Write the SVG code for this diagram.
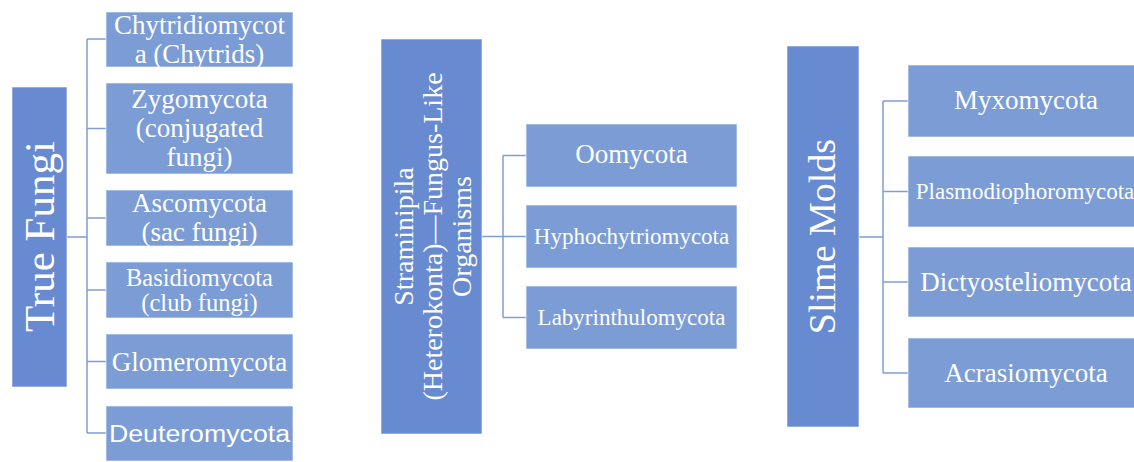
<svg xmlns="http://www.w3.org/2000/svg" width="1134" height="462" viewBox="0 0 1134 462">
<style>
.parent{fill:#678AD0;stroke:#ffffff;stroke-opacity:0.6;stroke-width:1}
.child{fill:#7B9CD5;stroke:#ffffff;stroke-opacity:0.6;stroke-width:1}
.t{font-family:"Liberation Serif","Times New Roman",serif;fill:#ffffff;text-anchor:middle}
.s{font-family:"Liberation Sans",Arial,sans-serif;fill:#ffffff;text-anchor:middle}
.conn{fill:none;stroke:#7F9DD6;stroke-width:1.5}
</style>
<rect width="1134" height="462" fill="#ffffff"/>
<g id="connectors">
<path class="conn" d="M67,237H87M87,39V433M87,39H106M87,128.5H106M87,218H106M87,290H106M87,361.5H106M87,433H106"/>
<path class="conn" d="M482,236.5H526M503,155.5V317.5M503,155.5H526M503,317.5H526"/>
<path class="conn" d="M859,237H883M883,101V373M883,101H908M883,191.5H908M883,282H908M883,373H908"/>
</g>
<g id="true-fungi">
<rect class="parent" x="12" y="87" width="55" height="300"/>
<text class="t" font-size="43" transform="translate(39.5,236.5) rotate(-90)" y="14">True Fungi</text>
</g>
<g id="chytridiomycota">
<rect class="child" x="106" y="12" width="187" height="55"/>
<text class="t" font-size="27" x="199.5" y="34">Chytridiomycot</text>
<text class="t" font-size="27" x="199.5" y="63">a (Chytrids)</text>
</g>
<g id="zygomycota">
<rect class="child" x="106" y="83" width="187" height="91"/>
<text class="t" font-size="27" x="199.5" y="108">Zygomycota</text>
<text class="t" font-size="27" x="199.5" y="137">(conjugated</text>
<text class="t" font-size="27" x="199.5" y="166">fungi)</text>
</g>
<g id="ascomycota">
<rect class="child" x="106" y="190" width="187" height="56"/>
<text class="t" font-size="27" x="199.5" y="212">Ascomycota</text>
<text class="t" font-size="27" x="199.5" y="241">(sac fungi)</text>
</g>
<g id="basidiomycota">
<rect class="child" x="106" y="262" width="187" height="56"/>
<text class="t" font-size="24.5" x="199.5" y="286">Basidiomycota</text>
<text class="t" font-size="24.5" x="199.5" y="311">(club fungi)</text>
</g>
<g id="glomeromycota">
<rect class="child" x="106" y="334" width="187" height="55"/>
<text class="t" font-size="27" x="199.5" y="371">Glomeromycota</text>
</g>
<g id="deuteromycota">
<rect class="child" x="106" y="406" width="187" height="55"/>
<text class="s" font-size="23" x="199.5" y="442" textLength="181" lengthAdjust="spacingAndGlyphs">Deuteromycota</text>
</g>
<g id="straminipila">
<rect class="parent" x="381" y="39" width="101" height="395"/>
<g transform="translate(431.5,236.5) rotate(-90)">
<text class="t" font-size="28" x="0" y="-18.5">Straminipila</text>
<text class="t" font-size="28" x="0" y="10.5">(Heterokonta)—Fungus-Like</text>
<text class="t" font-size="28" x="0" y="39.5">Organisms</text>
</g>
</g>
<g id="oomycota">
<rect class="child" x="526" y="124" width="211" height="63"/>
<text class="t" font-size="27" x="631.5" y="163">Oomycota</text>
</g>
<g id="hyphochytriomycota">
<rect class="child" x="526" y="205" width="211" height="63"/>
<text class="t" font-size="23" x="631.5" y="244">Hyphochytriomycota</text>
</g>
<g id="labyrinthulomycota">
<rect class="child" x="526" y="286" width="211" height="63"/>
<text class="t" font-size="23" x="631.5" y="325">Labyrinthulomycota</text>
</g>
<g id="slime-molds">
<rect class="parent" x="787" y="46" width="72" height="381"/>
<text class="t" font-size="38" transform="translate(823,236.5) rotate(-90)" y="12">Slime Molds</text>
</g>
<g id="myxomycota">
<rect class="child" x="908" y="65" width="240" height="72"/>
<text class="t" font-size="27" x="1026" y="109">Myxomycota</text>
</g>
<g id="plasmodiophoromycota">
<rect class="child" x="908" y="156" width="240" height="71"/>
<text class="t" font-size="23" x="1025" y="199">Plasmodiophoromycota</text>
</g>
<g id="dictyosteliomycota">
<rect class="child" x="908" y="247" width="240" height="70"/>
<text class="t" font-size="27" x="1026" y="291">Dictyosteliomycota</text>
</g>
<g id="acrasiomycota">
<rect class="child" x="908" y="338" width="240" height="70"/>
<text class="t" font-size="27" x="1026" y="382">Acrasiomycota</text>
</g>
</svg>
